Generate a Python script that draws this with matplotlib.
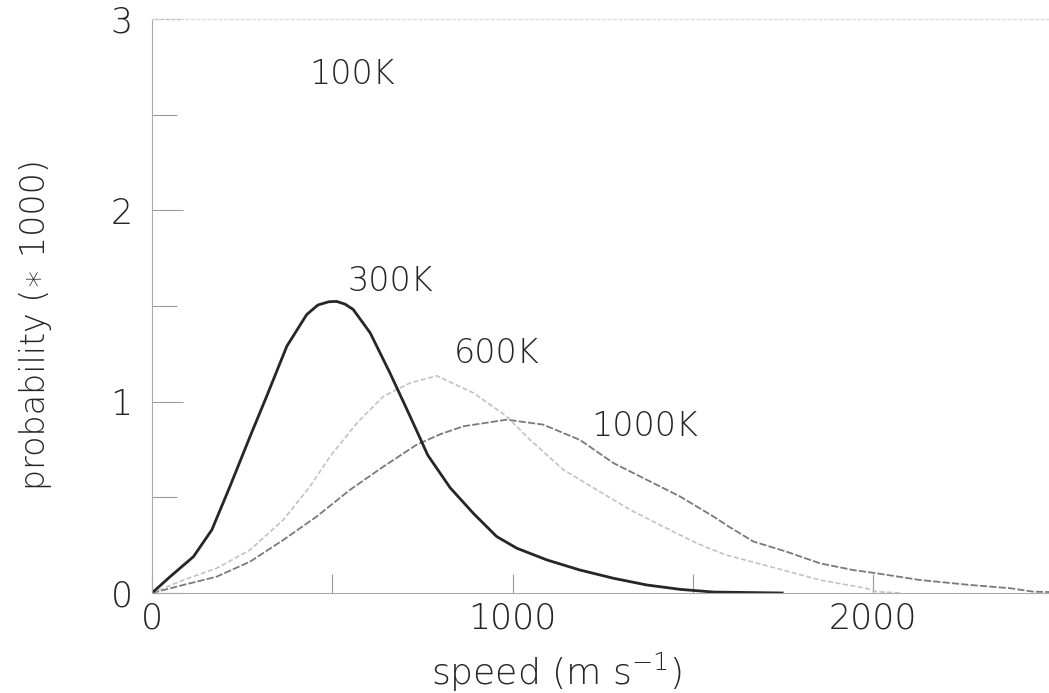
import matplotlib
matplotlib.use("Agg")
import matplotlib.pyplot as plt
from matplotlib.ticker import MultipleLocator

plt.rcParams['font.family'] = ['DejaVu Sans']
plt.rcParams['mathtext.fontset'] = 'dejavusans'

# ---- data ----
speed_300 = [0, 50, 115, 166, 216, 272, 318, 374, 429, 460, 490, 512, 535, 558, 605, 660, 716, 765,
             827, 891, 956, 1012, 1095, 1187, 1280, 1372, 1465, 1557, 1748]
prob_300 = [0, 0.085, 0.19, 0.33, 0.556, 0.818, 1.028, 1.29, 1.455, 1.505, 1.522, 1.524, 1.51, 1.482, 1.36, 1.15, 0.923, 0.72,
            0.55, 0.417, 0.295, 0.234, 0.173, 0.12, 0.077, 0.042, 0.019, 0.005, 0]

speed_600 = [0, 87, 179, 272, 364, 438, 494, 568, 642, 716, 790, 891, 984, 1049, 1141, 1234, 1326, 1418, 1511,
             1590, 1714, 1853, 1982, 2010, 2075]
prob_600 = [0, 0.068, 0.129, 0.225, 0.382, 0.556, 0.714, 0.888, 1.028, 1.098, 1.135, 1.046, 0.923, 0.80, 0.644,
            0.539, 0.435, 0.347, 0.26, 0.20, 0.138, 0.068, 0.024, 0.007, 0]

speed_1000 = [0, 87, 179, 272, 364, 457, 549, 642, 734, 800, 863, 984, 1085, 1187, 1280, 1372, 1465, 1557, 1600,
              1668, 1760, 1853, 1945, 2010, 2130, 2269, 2380, 2444, 2488]
prob_1000 = [0, 0.042, 0.085, 0.164, 0.277, 0.40, 0.539, 0.661, 0.775, 0.83, 0.871, 0.906, 0.88, 0.80, 0.679,
             0.592, 0.504, 0.40, 0.347, 0.269, 0.216, 0.155, 0.12, 0.103, 0.068, 0.042, 0.025, 0.007, 0.005]

labels = ["100K", "300K", "600K", "1000K"]
label_x = [555, 660, 957, 1368]
label_y = [2.71, 1.63, 1.25, 0.87]

x_ticks = [0, 1000, 2000]
y_ticks = [0, 1, 2, 3]

# ---- figure ----
fig = plt.figure(figsize=(10.49, 6.93), dpi=100)
ax = fig.add_axes([0.1449, 0.1443, 0.8551, 0.8283])

ax.plot(speed_1000, prob_1000, color='#7a7a7a', lw=1.3, ls=(0, (4, 1.2)))
ax.plot(speed_600, prob_600, color='#c2c2c2', lw=1.2, ls=(0, (3, 1.5)))
ax.plot(speed_300, prob_300, color='#262626', lw=2.0)

txtc = '#262626'
for t, xx, yy in zip(labels, label_x, label_y):
    ax.text(xx, yy, t, fontsize=24, color=txtc, ha='center', va='center', fontweight='light')

ax.set_xlim(0, 2488)
ax.set_ylim(0, 3)
ax.set_xticks(x_ticks)
ax.set_yticks(y_ticks)
ax.xaxis.set_minor_locator(MultipleLocator(500))
ax.yaxis.set_minor_locator(MultipleLocator(0.5))

ax.tick_params(axis='both', which='both', direction='in', colors='#999999',
               labelcolor=txtc, labelsize=25, width=0.8)
ax.tick_params(axis='x', which='major', length=14, pad=6)
ax.tick_params(axis='x', which='minor', length=14)
ax.tick_params(axis='y', which='major', length=22, pad=14)
ax.tick_params(axis='y', which='minor', length=18)
for lab in ax.get_xticklabels() + ax.get_yticklabels():
    lab.set_fontweight('light')

ax.spines['right'].set_visible(False)
ax.spines['top'].set_color('#dddddd')
ax.spines['top'].set_linestyle((0, (2, 2)))
ax.spines['top'].set_linewidth(1.0)
ax.spines['left'].set_color('#aaaaaa')
ax.spines['left'].set_linewidth(0.8)
ax.spines['bottom'].set_color('#aaaaaa')
ax.spines['bottom'].set_linewidth(0.8)

ax.set_xlabel('speed (m s$^{\\mathregular{-1}}$)', fontsize=26, color=txtc, fontweight='light')
ax.set_ylabel('probability (\u2217 1000)', fontsize=24, color=txtc, fontweight='light')
ax.xaxis.set_label_coords(0.4515, -0.100)
ax.yaxis.set_label_coords(-0.1115, 0.467)

fig.savefig('out.png', dpi=100)
